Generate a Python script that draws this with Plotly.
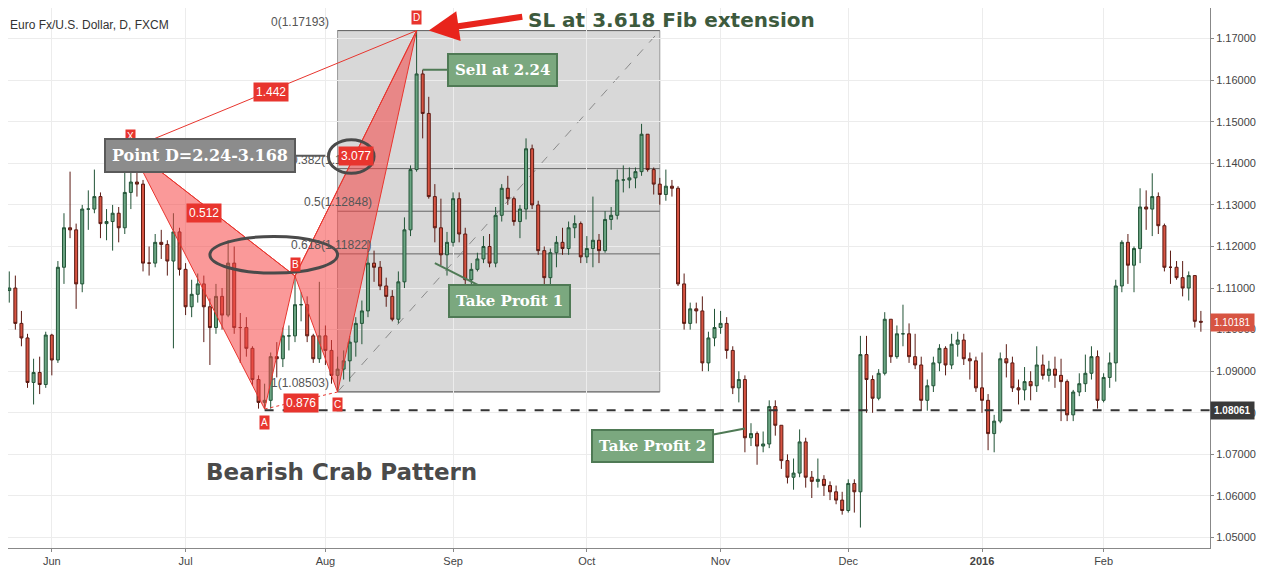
import pandas as pd
import plotly.graph_objects as go

# daily EUR/USD candles (open = previous close)
first_open = 1.1145
closes = [
    # May 20-29
    1.1094, 1.1100, 1.1015, 1.0980, 1.0873, 1.0897, 1.0868, 1.0987,
    # Jun
    1.0927, 1.1150, 1.1245, 1.1240, 1.1110, 1.1290, 1.1290, 1.1320, 1.1255, 1.1260, 1.1280,
    1.1245, 1.1330, 1.1355, 1.1350, 1.1160, 1.1160, 1.1210, 1.1205, 1.1165, 1.1235, 1.1145,
    # Jul
    1.1055, 1.1085, 1.1110, 1.1055, 1.1005, 1.1080, 1.1035, 1.1160, 1.1005, 1.1005, 1.0955, 1.0880,
    1.0825, 1.0830, 1.0935, 1.0930, 1.0985, 1.0985, 1.1060, 1.1060, 1.0985, 1.0930, 1.0985,
    # Aug
    1.0950, 1.0890, 1.0905, 1.0925, 1.0970, 1.1015, 1.1045, 1.1160, 1.1150, 1.1105, 1.1080,
    1.1025, 1.1115, 1.1240, 1.1385, 1.1615, 1.1520, 1.1320, 1.1245, 1.1180, 1.1210,
    # Sep
    1.1315, 1.1230, 1.1120, 1.1145, 1.1170, 1.1200, 1.1160, 1.1275, 1.1340, 1.1315, 1.1260,
    1.1290, 1.1435, 1.1300, 1.1190, 1.1125, 1.1185, 1.1210, 1.1195, 1.1245, 1.1255, 1.1175,
    # Oct
    1.1195, 1.1215, 1.1190, 1.1265, 1.1275, 1.1360, 1.1360, 1.1365, 1.1380, 1.1470, 1.1385,
    1.1350, 1.1325, 1.1345, 1.1340, 1.1110, 1.1015, 1.1050, 1.1045, 1.0920, 1.0980, 1.1005,
    # Nov
    1.1015, 1.0950, 1.0860, 1.0880, 1.0740, 1.0750, 1.0720, 1.0725, 1.0815, 1.0770, 1.0685,
    1.0645, 1.0655, 1.0730, 1.0645, 1.0635, 1.0640, 1.0625, 1.0610, 1.0590, 1.0565,
    # Dec
    1.0630, 1.0610, 1.0940, 1.0880, 1.0835, 1.0895, 1.1025, 1.0935, 1.0990, 1.0990, 1.0935,
    1.0915, 1.0830, 1.0865, 1.0920, 1.0955, 1.0915, 1.0965, 1.0975, 1.0930, 1.0925, 1.0860,
    # Jan
    1.0830, 1.0750, 1.0780, 1.0930, 1.0920, 1.0860, 1.0855, 1.0875, 1.0865, 1.0915,
    1.0890, 1.0905, 1.0890, 1.0875, 1.0795, 1.0850, 1.0870, 1.0895, 1.0935, 1.0830,
    # Feb
    1.0885, 1.0920, 1.1105, 1.1210, 1.1155, 1.1195, 1.1295, 1.1290, 1.1320, 1.1250, 1.1150,
    1.1150, 1.1125, 1.1100, 1.1130, 1.1020, 1.1018,
]
highs = [
    1.1160, 1.1140, 1.1130, 1.1045, 1.0990, 1.0930, 1.0935, 1.0995,
    1.0990, 1.1165, 1.1280, 1.1380, 1.1255, 1.1300, 1.1335, 1.1385, 1.1330, 1.1290, 1.1300,
    1.1295, 1.1390, 1.1436, 1.1390, 1.1360, 1.1200, 1.1230, 1.1240, 1.1215, 1.1280, 1.1245,
    1.1160, 1.1120, 1.1135, 1.1130, 1.1075, 1.1110, 1.1100, 1.1215, 1.1200, 1.1040, 1.1030, 1.0960,
    1.0890, 1.0870, 1.0945, 1.0970, 1.1005, 1.1010, 1.1130, 1.1090, 1.1080, 1.0990, 1.1115,
    1.1010, 1.0975, 1.0935, 1.0950, 1.0985, 1.1030, 1.1070, 1.1215, 1.1190, 1.1165, 1.1125,
    1.1095, 1.1140, 1.1270, 1.1395, 1.1719, 1.1625, 1.1560, 1.1350, 1.1315, 1.1235,
    1.1330, 1.1330, 1.1245, 1.1160, 1.1185, 1.1225, 1.1230, 1.1295, 1.1350, 1.1370, 1.1320,
    1.1300, 1.1460, 1.1445, 1.1310, 1.1200, 1.1195, 1.1225, 1.1245, 1.1260, 1.1275, 1.1260,
    1.1225, 1.1320, 1.1230, 1.1285, 1.1295, 1.1385, 1.1395, 1.1390, 1.1390, 1.1495, 1.1470,
    1.1390, 1.1365, 1.1385, 1.1360, 1.1345, 1.1135, 1.1065, 1.1065, 1.1080, 1.0995, 1.1050,
    1.1045, 1.1030, 1.0960, 1.0900, 1.0890, 1.0775, 1.0755, 1.0755, 1.0830, 1.0830, 1.0770,
    1.0700, 1.0690, 1.0760, 1.0740, 1.0660, 1.0690, 1.0650, 1.0635, 1.0625, 1.0610,
    1.0640, 1.0640, 1.0985, 1.0985, 1.0890, 1.0905, 1.1042, 1.1020, 1.1010, 1.1060, 1.1015,
    1.0990, 1.0935, 1.0880, 1.0935, 1.0965, 1.0960, 1.0990, 1.0995, 1.0990, 1.0945, 1.0935,
    1.0945, 1.0845, 1.0795, 1.0945, 1.0965, 1.0935, 1.0880, 1.0910, 1.0900, 1.0960,
    1.0940, 1.0925, 1.0935, 1.0930, 1.0880, 1.0855, 1.0895, 1.0940, 1.0960, 1.0950,
    1.0895, 1.0945, 1.1120, 1.1215, 1.1230, 1.1200, 1.1340, 1.1335, 1.1376, 1.1330, 1.1255,
    1.1190, 1.1165, 1.1165, 1.1140, 1.1120, 1.1045,
]
lows = [
    1.1060, 1.1065, 1.1000, 1.0960, 1.0860, 1.0820, 1.0845, 1.0860,
    1.0890, 1.0920, 1.1110, 1.1220, 1.1050, 1.1090, 1.1240, 1.1280, 1.1220, 1.1215, 1.1190,
    1.1210, 1.1230, 1.1290, 1.1320, 1.1140, 1.1130, 1.1150, 1.1170, 1.1130, 1.0955, 1.1130,
    1.1035, 1.1030, 1.1065, 1.0970, 1.0915, 1.0990, 1.1000, 1.1030, 1.0990, 1.0920, 1.0935, 1.0865,
    1.0810, 1.0809, 1.0810, 1.0885, 1.0910, 1.0950, 1.0970, 1.1020, 1.0970, 1.0920, 1.0920,
    1.0915, 1.0870, 1.0850, 1.0880, 1.0875, 1.0935, 1.0965, 1.1030, 1.1115, 1.1095, 1.1055,
    1.1020, 1.1015, 1.1100, 1.1225, 1.1380, 1.1460, 1.1315, 1.1210, 1.1155, 1.1130,
    1.1200, 1.1210, 1.1085, 1.1090, 1.1140, 1.1160, 1.1150, 1.1150, 1.1260, 1.1300, 1.1250,
    1.1220, 1.1265, 1.1290, 1.1180, 1.1105, 1.1105, 1.1150, 1.1180, 1.1180, 1.1220, 1.1160,
    1.1160, 1.1150, 1.1160, 1.1185, 1.1240, 1.1265, 1.1330, 1.1340, 1.1340, 1.1370, 1.1380,
    1.1325, 1.1300, 1.1310, 1.1320, 1.1105, 1.1000, 1.1000, 1.1015, 1.0900, 1.0900, 1.0960,
    1.0990, 1.0930, 1.0845, 1.0825, 1.0705, 1.0720, 1.0675, 1.0705, 1.0715, 1.0745, 1.0665,
    1.0630, 1.0615, 1.0645, 1.0620, 1.0595, 1.0620, 1.0600, 1.0590, 1.0580, 1.0555,
    1.0560, 1.0560, 1.0524, 1.0800, 1.0800, 1.0830, 1.0890, 1.0920, 1.0930, 1.0960, 1.0920,
    1.0905, 1.0805, 1.0805, 1.0850, 1.0900, 1.0890, 1.0905, 1.0935, 1.0915, 1.0880, 1.0850,
    1.0800, 1.0710, 1.0705, 1.0775, 1.0885, 1.0850, 1.0820, 1.0830, 1.0830, 1.0850,
    1.0880, 1.0875, 1.0860, 1.0780, 1.0780, 1.0780, 1.0840, 1.0850, 1.0880, 1.0810,
    1.0825, 1.0860, 1.0875, 1.1090, 1.1110, 1.1090, 1.1160, 1.1240, 1.1225, 1.1230, 1.1140,
    1.1110, 1.1120, 1.1080, 1.1070, 1.1005, 1.0995,
]
holidays = ["2015-12-25", "2016-01-01"]

# harmonic pattern points X A B C D
pattern_dates = ["2015-06-18", "2015-07-20", "2015-07-27", "2015-08-05", "2015-08-24"]
pattern_prices = [1.1436, 1.0809, 1.1129, 1.0850, 1.17193]
pattern_names = ["X", "A", "B", "C", "D"]

fib_levels = [0.0, 0.382, 0.5, 0.618, 1.0]
fib_prices = [1.17193, 1.13873, 1.12848, 1.11822, 1.08503]
fib_start, fib_end = "2015-08-05", "2015-10-19"

tp2_price = 1.08061
last_price = 1.10181

tick_dates = ["2015-06-01", "2015-07-01", "2015-08-03", "2015-09-01", "2015-10-01",
              "2015-11-02", "2015-12-01", "2016-01-04", "2016-02-01"]
tick_text = ["Jun", "Jul", "Aug", "Sep", "Oct", "Nov", "Dec", "<b>2016</b>", "Feb"]

dates = pd.bdate_range("2015-05-20", "2016-02-23")
dates = dates[~dates.isin(pd.to_datetime(holidays))]
assert len(dates) == len(closes) == len(highs) == len(lows), (len(dates), len(closes), len(highs), len(lows))
opens = [first_open] + closes[:-1]
highs = [max(h, o, c) for h, o, c in zip(highs, opens, closes)]
lows = [min(l, o, c) for l, o, c in zip(lows, opens, closes)]

RED = "#e8352e"
fig = go.Figure()

# fib box
fig.add_shape(type="rect", x0=fib_start, x1=fib_end, y0=fib_prices[-1], y1=fib_prices[0],
              fillcolor="rgba(200,200,200,0.7)", line=dict(color="#9a9a9a", width=1), layer="below")
for lv, p in zip(fib_levels, fib_prices):
    fig.add_shape(type="line", x0=fib_start, x1=fib_end, y0=p, y1=p,
                  line=dict(color="#666666", width=1), layer="below")
fig.add_shape(type="line", x0=fib_start, x1=fib_end, y0=fib_prices[-1], y1=fib_prices[0],
              line=dict(color="#8a8a8a", width=1, dash="dash"), layer="below")

# take profit 2 dashed line
fig.add_shape(type="line", x0=pattern_dates[1], x1="2016-02-24 12:00", y0=tp2_price, y1=tp2_price,
              line=dict(color="#333333", width=2, dash="dash"))

# pattern triangles
for idx in ([0, 1, 2], [2, 3, 4]):
    fig.add_trace(go.Scatter(
        x=[pattern_dates[i] for i in idx] + [pattern_dates[idx[0]]],
        y=[pattern_prices[i] for i in idx] + [pattern_prices[idx[0]]],
        mode="lines", fill="toself", fillcolor="rgba(245,70,70,0.55)",
        line=dict(color=RED, width=1), hoverinfo="skip", showlegend=False))
for a, b, dash in ((0, 4, "solid"), (0, 2, "solid"), (1, 3, "dot"), (2, 4, "solid")):
    fig.add_trace(go.Scatter(x=[pattern_dates[a], pattern_dates[b]],
                             y=[pattern_prices[a], pattern_prices[b]], mode="lines",
                             line=dict(color=RED, width=1, dash=dash),
                             hoverinfo="skip", showlegend=False))

fig.add_trace(go.Candlestick(
    x=dates, open=opens, high=highs, low=lows, close=closes,
    increasing=dict(fillcolor="#6ba583", line=dict(color="#225437", width=1)),
    decreasing=dict(fillcolor="#d75442", line=dict(color="#5b1a13", width=1)),
    showlegend=False))

anns = []
# fib labels
fib_label_x = ["2015-08-04", "2015-08-13", "2015-08-13", "2015-08-13", "2015-08-04"]
for lv, p, xx in zip(fib_levels, fib_prices, fib_label_x):
    txt = f"{lv:g}({p:.5f})" if lv not in (0.0, 1.0) else (f"0({p:.5f})" if lv == 0 else f"1({p:.5f})")
    anns.append(dict(x=xx, y=p, text=txt, showarrow=False, xanchor="right", yanchor="bottom",
                     font=dict(size=12, color="#555555")))
# pattern point letters
offs = [12, -13, 12, -12, 13]
for d, p, n, o in zip(pattern_dates, pattern_prices, pattern_names, offs):
    anns.append(dict(x=d, y=p, text=n, showarrow=False, yshift=o, bgcolor=RED,
                     font=dict(size=10, color="white"), borderpad=1))
# ratio labels
ratio_labels = [("2015-07-21", 1.1572, "1.442"), ("2015-07-06", 1.1280, "0.512"),
                ("2015-07-28", 1.0824, "0.876"), ("2015-08-10", 1.1418, "3.077")]
for d, p, t in ratio_labels:
    anns.append(dict(x=d, y=p, text=t, showarrow=False, bgcolor=RED,
                     font=dict(size=12, color="white"), borderpad=2))

callout = dict(showarrow=True, arrowhead=0, arrowwidth=2, font=dict(family="DejaVu Serif", size=15, color="white"),
               borderpad=6, borderwidth=2)
anns += [
    dict(callout, x="2015-08-03", y=1.1418, ax=-125, ay=0, text="<b>Point D=2.24-3.168</b>",
         bgcolor="#8c8c8c", bordercolor="#5a5a5a", arrowcolor="#5a5a5a", font=dict(family="DejaVu Serif", size=16, color="white")),
    dict(callout, x="2015-08-25", y=1.1625, ax=80, ay=0, text="<b>Sell at 2.24</b>",
         bgcolor="#7ba87f", bordercolor="#4f7a55", arrowcolor="#4f7a55"),
    dict(callout, x="2015-08-27", y=1.1160, ax=75, ay=38, text="<b>Take Profit 1</b>",
         bgcolor="#7ba87f", bordercolor="#4f7a55", arrowcolor="#4f7a55"),
    dict(callout, x="2015-11-06", y=1.0762, ax=-92, ay=17, text="<b>Take Profit 2</b>",
         bgcolor="#7ba87f", bordercolor="#4f7a55", arrowcolor="#4f7a55"),
    dict(x="2015-08-26", y=1.17193, ax=95, ay=-14, showarrow=True, arrowhead=2, arrowsize=1,
         arrowwidth=6, arrowcolor="#e8241c", text=""),
    dict(x="2015-09-17", y=1.1744, text="<b>SL at 3.618 Fib extension</b>", showarrow=False,
         xanchor="left", font=dict(family="DejaVu Sans", size=20, color="#3d5a3d")),
    dict(x="2015-07-06", y=1.0657, text="<b>Bearish Crab Pattern</b>", showarrow=False,
         xanchor="left", font=dict(family="DejaVu Sans", size=23, color="#4a4a4a")),
    dict(x=0.0, y=0.985, xref="paper", yref="paper", text="Euro Fx/U.S. Dollar, D, FXCM",
         showarrow=False, xanchor="left", yanchor="top", font=dict(size=12, color="#333333")),
    dict(x=1.0, y=tp2_price, xref="paper", text="<b>1.08061</b>", showarrow=False, xanchor="left",
         bgcolor="#3a3a3a", font=dict(size=10, color="white"), borderpad=3),
    dict(x=1.0, y=last_price, xref="paper", text="1.10181", showarrow=False, xanchor="left",
         bgcolor="#d75442", font=dict(size=10, color="white"), borderpad=3),
]

# ellipses
fig.add_shape(type="circle", x0="2015-08-03 12:00", x1="2015-08-13", y0=1.1376, y1=1.1457,
              line=dict(color="#4a4a4a", width=3))
fig.add_shape(type="circle", x0="2015-07-07", x1="2015-08-05", y0=1.1136, y1=1.1224,
              line=dict(color="#4a4a4a", width=3))

# page body has an 8px margin, so the figure is sized/ranged to land where the reference plot is
fig.update_layout(
    width=1258, height=564, margin=dict(l=0, r=56, t=0, b=24),
    plot_bgcolor="white", paper_bgcolor="white", annotations=anns,
    font=dict(family="Arial, Liberation Sans"),
    xaxis=dict(range=["2015-05-20 19:00", "2016-02-24 12:00"], rangeslider=dict(visible=False),
               rangebreaks=[dict(bounds=["sat", "mon"]), dict(values=holidays)],
               tickvals=tick_dates, ticktext=tick_text, tickfont=dict(size=11, color="#444"),
               showgrid=True, gridcolor="#ececec", showline=True, linecolor="#888", mirror=True,
               ticks="outside", ticklen=3, tickcolor="#888"),
    yaxis=dict(range=[1.04748, 1.17736], side="right", tickformat=".5f", dtick=0.01,
               tickfont=dict(size=11, color="#444"), showgrid=True, gridcolor="#ececec",
               showline=True, linecolor="#888", mirror=True, ticks="outside", ticklen=3, tickcolor="#888"),
)

fig.write_html("out.html")
